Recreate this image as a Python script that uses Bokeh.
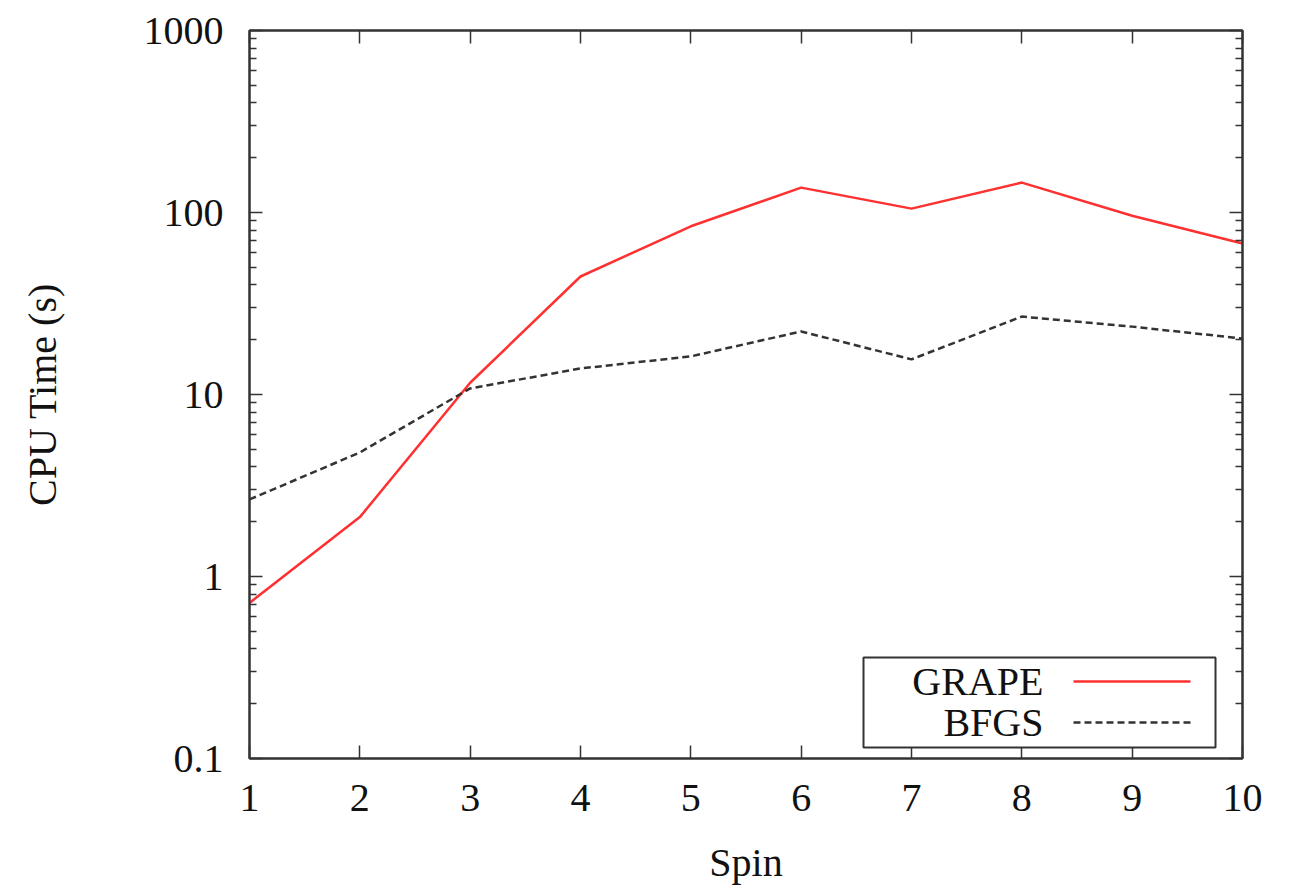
from bokeh.plotting import figure
from bokeh.models import (LinearAxis, LogAxis, FixedTicker, CustomJSTickFormatter,
                          BoxAnnotation, Label, Arrow, Range1d)
from bokeh.embed import file_html
from bokeh.resources import INLINE

spin = [1, 2, 3, 4, 5, 6, 7, 8, 9, 10]
grape = [0.716, 2.12, 11.6, 44.5, 84, 137, 105, 146, 96, 67.6]
bfgs = [2.65, 4.8, 10.8, 13.9, 16.2, 22.2, 15.6, 26.8, 23.6, 20.3]
series_names = ["GRAPE", "BFGS"]
x_ticks = [1, 2, 3, 4, 5, 6, 7, 8, 9, 10]
y_ticks = [0.1, 1, 10, 100, 1000]

FONT = "Liberation Serif"
FS = "40px"

p = figure(width=1296, height=888, frame_width=993, frame_height=728,
           y_axis_type="log", x_range=Range1d(1, 10), y_range=Range1d(0.1, 1000),
           output_backend="svg", toolbar_location=None,
           min_border_left=249, min_border_right=54, min_border_top=30, min_border_bottom=130)

p.background_fill_color = "white"
p.border_fill_color = "white"
p.grid.visible = False
p.outline_line_color = "#333333"
p.outline_line_width = 2

minor_y = [m * d for d in [0.1, 1, 10, 100] for m in range(2, 10)]
yt = FixedTicker(ticks=y_ticks, minor_ticks=minor_y)
xt = FixedTicker(ticks=x_ticks, minor_ticks=[])
yfmt = CustomJSTickFormatter(code="return tick >= 1 ? tick.toFixed(0) : String(tick);")
empty = CustomJSTickFormatter(code="return '';")

def style(ax):
    ax.axis_line_color = "#333333"
    ax.axis_line_width = 2
    ax.major_tick_in = 13
    ax.major_tick_out = 0
    ax.minor_tick_in = 7
    ax.minor_tick_out = 0
    ax.major_tick_line_color = "#333333"
    ax.minor_tick_line_color = "#333333"
    ax.major_tick_line_width = 1.5
    ax.minor_tick_line_width = 1.5
    ax.major_label_text_font = FONT
    ax.major_label_text_font_size = FS
    ax.major_label_text_color = "#111111"
    ax.axis_label_text_font = FONT
    ax.axis_label_text_font_size = FS
    ax.axis_label_text_font_style = "normal"
    ax.axis_label_text_color = "#111111"

xa = p.xaxis[0]
xa.ticker = xt
xa.axis_label = "Spin"
xa.major_label_standoff = 26
xa.axis_label_standoff = 26
style(xa)

ya = p.yaxis[0]
ya.ticker = yt
ya.formatter = yfmt
ya.axis_label = "CPU Time (s)"
ya.major_label_standoff = 26
ya.axis_label_standoff = 76
style(ya)

top = LinearAxis(ticker=xt, formatter=empty)
style(top)
p.add_layout(top, "above")
right = LogAxis(ticker=yt, formatter=empty)
style(right)
p.add_layout(right, "right")

p.line(spin, grape, line_color="#ff3030", line_width=2.5)
p.line(spin, bfgs, line_color="#333333", line_width=2.5, line_dash="7 4")

# legend (label on left, sample on right)
p.add_layout(BoxAnnotation(left=614, right=966, bottom=11, top=101,
                           left_units="screen", right_units="screen",
                           bottom_units="screen", top_units="screen",
                           fill_color="white", fill_alpha=1.0,
                           line_color="#333333", line_alpha=1.0, line_width=2))
for i, (name, col, dash) in enumerate(zip(series_names, ["#ff3030", "#333333"], ["solid", "7 4"])):
    yy = 77 - 41 * i
    p.add_layout(Label(x=794, y=yy, x_units="screen", y_units="screen", text=name,
                       text_align="right", text_baseline="middle",
                       text_font=FONT, text_font_size=FS, text_color="#111111"))
    p.add_layout(Arrow(x_start=824, y_start=yy, x_end=941, y_end=yy,
                       start_units="screen", end_units="screen", end=None, start=None,
                       line_color=col, line_width=2.5, line_dash=dash))

open("out.html", "w").write(file_html(p, INLINE))
